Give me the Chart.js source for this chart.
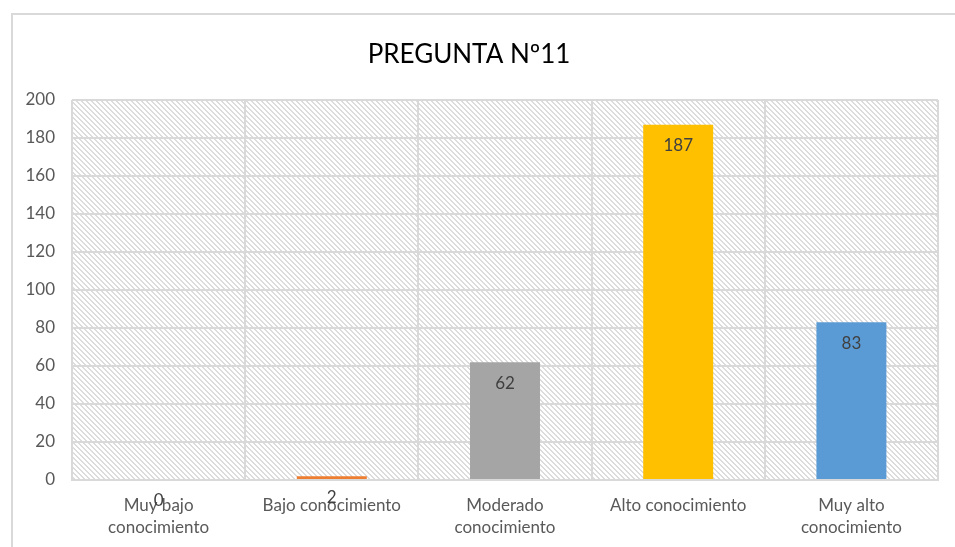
<!DOCTYPE html>
<html>
<head>
<meta charset="utf-8">
<script src="https://cdn.jsdelivr.net/npm/chart.js@4.4.1/dist/chart.umd.min.js"></script>
<style>
  html,body{margin:0;padding:0;background:#fff;overflow:hidden;}
  #wrap{position:absolute;left:0;top:0;width:955px;height:547px;}
  #frame{position:absolute;left:11px;top:13px;width:960px;height:600px;border:2px solid #d9d9d9;box-sizing:border-box;pointer-events:none;}
</style>
</head>
<body>
<div id="wrap"><canvas id="c" width="955" height="547"></canvas></div>
<div id="frame"></div>
<script>
const titleText = "PREGUNTA Nº11";
const categories = [["Muy bajo","conocimiento"],"Bajo conocimiento",["Moderado","conocimiento"],"Alto conocimiento",["Muy alto","conocimiento"]];
const values = [0, 2, 62, 187, 83];
const barColors = ["#5B9BD5","#ED7D31","#A5A5A5","#FFC000","#5B9BD5"];
const yMin = 0, yMax = 200, yStep = 20;

const FONT = "Lato, 'Open Sans', sans-serif";

function makeHatch(ctx){
  const p = document.createElement('canvas');
  p.width = 5; p.height = 5;
  const g = p.getContext('2d');
  g.fillStyle = '#ffffff'; g.fillRect(0,0,5,5);
  g.fillStyle = '#dcdcdc';
  for(let i=0;i<5;i++){ g.fillRect(i,i,1,1); g.fillRect((i+1)%5,i,1,1); }
  return ctx.createPattern(p,'repeat');
}

const hatchPlugin = {
  id:'hatch',
  beforeDraw(chart){
    const {ctx, chartArea:a} = chart;
    ctx.save();
    ctx.fillStyle = makeHatch(ctx);
    ctx.fillRect(a.left, a.top, a.right-a.left, a.bottom-a.top);
    ctx.restore();
  }
};

const labelPlugin = {
  id:'vals',
  afterDatasetsDraw(chart){
    const ctx = chart.ctx;
    const meta = chart.getDatasetMeta(0);
    ctx.save();
    ctx.font = "17px " + FONT;
    ctx.fillStyle = "#404040";
    ctx.textAlign = "center";
    ctx.textBaseline = "middle";
    meta.data.forEach((bar,i)=>{
      ctx.fillText(String(values[i]), bar.x, bar.y + 21);
    });
    ctx.restore();
  }
};

new Chart(document.getElementById('c'), {
  type:'bar',
  data:{
    labels: categories,
    datasets:[{
      data: values,
      backgroundColor: barColors,
      borderWidth: 0,
      barPercentage: 0.404,
      categoryPercentage: 1.0
    }]
  },
  plugins:[hatchPlugin, labelPlugin],
  options:{
    responsive:false,
    animation:false,
    layout:{padding:{left:0,right:17,top:0,bottom:0}},
    plugins:{
      legend:{display:false},
      tooltip:{enabled:false},
      title:{
        display:true,
        text:titleText,
        color:"#000000",
        font:{family:FONT,size:26,weight:'normal',lineHeight:1.2},
        padding:{top:39,bottom:29.8}
      }
    },
    scales:{
      x:{
        grid:{color:"#d9d9d9",lineWidth:2,drawTicks:false,offset:true},
        border:{display:true,color:"#d9d9d9",width:2},
        ticks:{color:"#595959",font:{family:FONT,size:17,lineHeight:1.3},padding:14,maxRotation:0,autoSkip:false},
        afterFit(s){ s.height = 67; }
      },
      y:{
        min:yMin,max:yMax,
        grid:{color:"#d9d9d9",lineWidth:2,drawTicks:false},
        border:{display:false},
        ticks:{stepSize:yStep,color:"#595959",font:{family:FONT,size:17},padding:17},
        afterFit(s){ s.width = 72; }
      }
    }
  }
});
</script>
</body>
</html>
